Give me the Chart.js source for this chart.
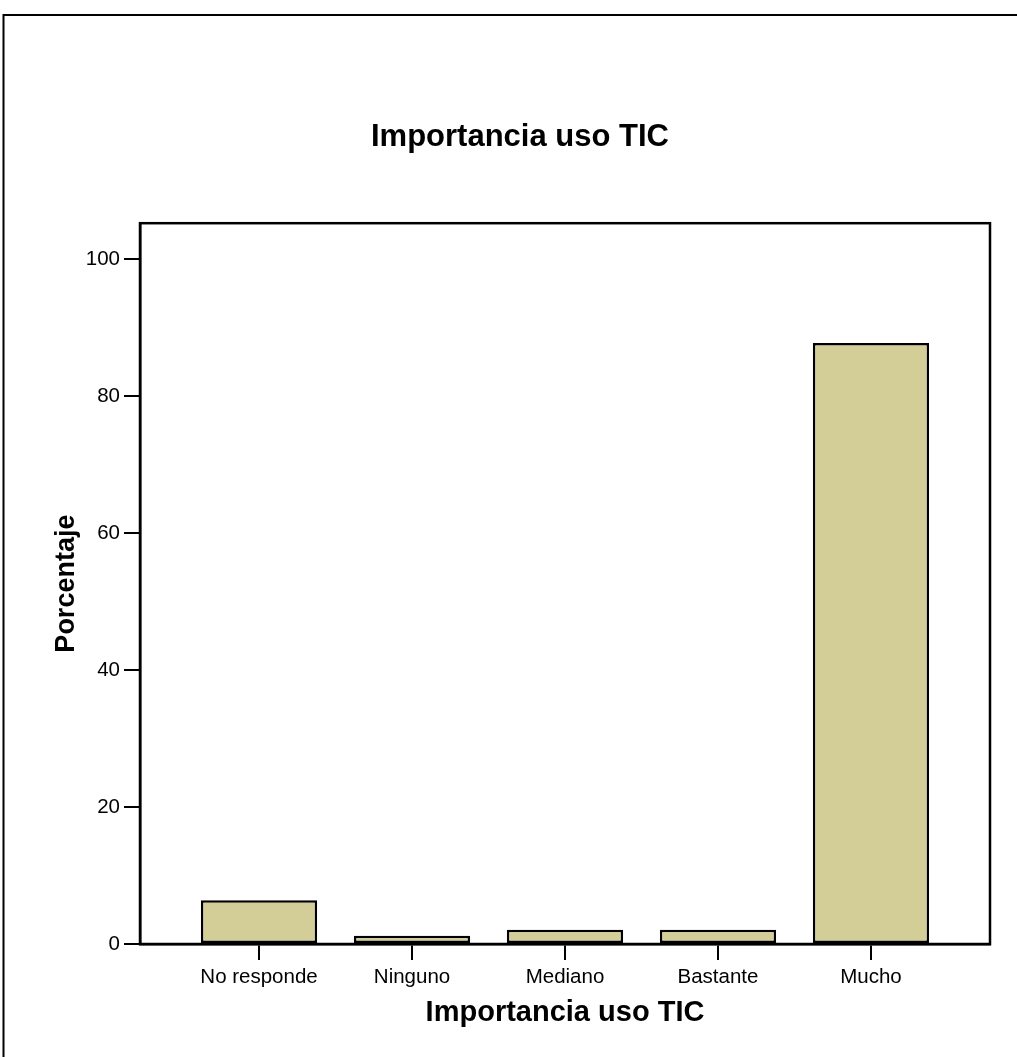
<!DOCTYPE html>
<html>
<head>
<meta charset="utf-8">
<script src="https://cdn.jsdelivr.net/npm/chart.js@4/dist/chart.umd.min.js"></script>
<style>
  html, body { margin: 0; padding: 0; background: #fff; overflow: hidden; }
  canvas { display: block; }
</style>
</head>
<body>
<canvas id="grafico" width="1017" height="1057"></canvas>
<script>
// === DATOS ===
const categorias = ["No responde", "Ninguno", "Mediano", "Bastante", "Mucho"];
const porcentajes = [6.4, 1.2, 2.1, 2.1, 87.8];
const ticksY = [0, 20, 40, 60, 80, 100];

const fuente = "'Liberation Sans', Arial, sans-serif";

// marco de la gráfica y del área de trazado
const marco = {
  id: "marco",
  beforeDraw(chart) {
    const ctx = chart.ctx;
    ctx.save();
    ctx.strokeStyle = "#000";
    ctx.lineWidth = 2;
    ctx.beginPath();
    ctx.moveTo(3.5, chart.height + 2);
    ctx.lineTo(3.5, 15);
    ctx.lineTo(chart.width + 2, 15);
    ctx.stroke();
    ctx.restore();
  },
  afterDatasetsDraw(chart) {
    const a = chart.chartArea;
    const ctx = chart.ctx;
    ctx.save();
    ctx.strokeStyle = "#000";
    ctx.lineWidth = 2.5;
    ctx.strokeRect(a.left, a.top, a.right - a.left, a.bottom - a.top);
    ctx.restore();
  }
};

new Chart(document.getElementById("grafico"), {
  type: "bar",
  data: {
    datasets: [{
      data: categorias.map((c, i) => ({ x: i, y: porcentajes[i] })),
      backgroundColor: "#d3ce98",
      borderColor: "#000",
      borderWidth: 2.5,
      borderSkipped: false,
      barPercentage: 0.76,
      categoryPercentage: 1
    }]
  },
  options: {
    responsive: false,
    animation: false,
    layout: { padding: { left: 50, right: 27, top: 0, bottom: 0 } },
    plugins: {
      legend: { display: false },
      tooltip: { enabled: false },
      title: {
        display: true,
        text: "Importancia uso TIC",
        color: "#000",
        font: { family: fuente, size: 31, weight: "bold" },
        padding: { top: 119, bottom: 67 }
      }
    },
    scales: {
      x: {
        type: "linear",
        min: -0.778,
        max: 4.778,
        offset: false,
        afterFit: s => { s.height = 113; },
        border: { color: "#000", width: 2.5 },
        grid: { offset: false, drawOnChartArea: false, drawTicks: true, tickLength: 16, color: "#000", lineWidth: 2 },
        ticks: {
          stepSize: 1,
          includeBounds: false,
          autoSkip: false,
          maxRotation: 0,
          padding: 5,
          color: "#000",
          font: { family: fuente, size: 20.5 },
          callback: v => categorias[v] ?? ""
        },
        title: {
          display: true,
          text: "Importancia uso TIC",
          color: "#000",
          font: { family: fuente, size: 29, weight: "bold" },
          padding: { top: 0, bottom: 27 }
        }
      },
      y: {
        min: 0,
        max: 105.3,
        afterFit: s => { s.width = 90; },
        afterBuildTicks: s => { s.ticks = ticksY.map(v => ({ value: v })); },
        border: { color: "#000", width: 2.5 },
        grid: { drawOnChartArea: false, drawTicks: true, tickLength: 16, color: "#000", lineWidth: 2 },
        ticks: {
          padding: 4,
          color: "#000",
          font: { family: fuente, size: 20.5 }
        },
        title: {
          display: true,
          text: "Porcentaje",
          color: "#000",
          font: { family: fuente, size: 27, weight: "bold" },
          padding: { top: 0, bottom: 0 }
        }
      }
    }
  },
  plugins: [marco]
});
</script>
</body>
</html>
